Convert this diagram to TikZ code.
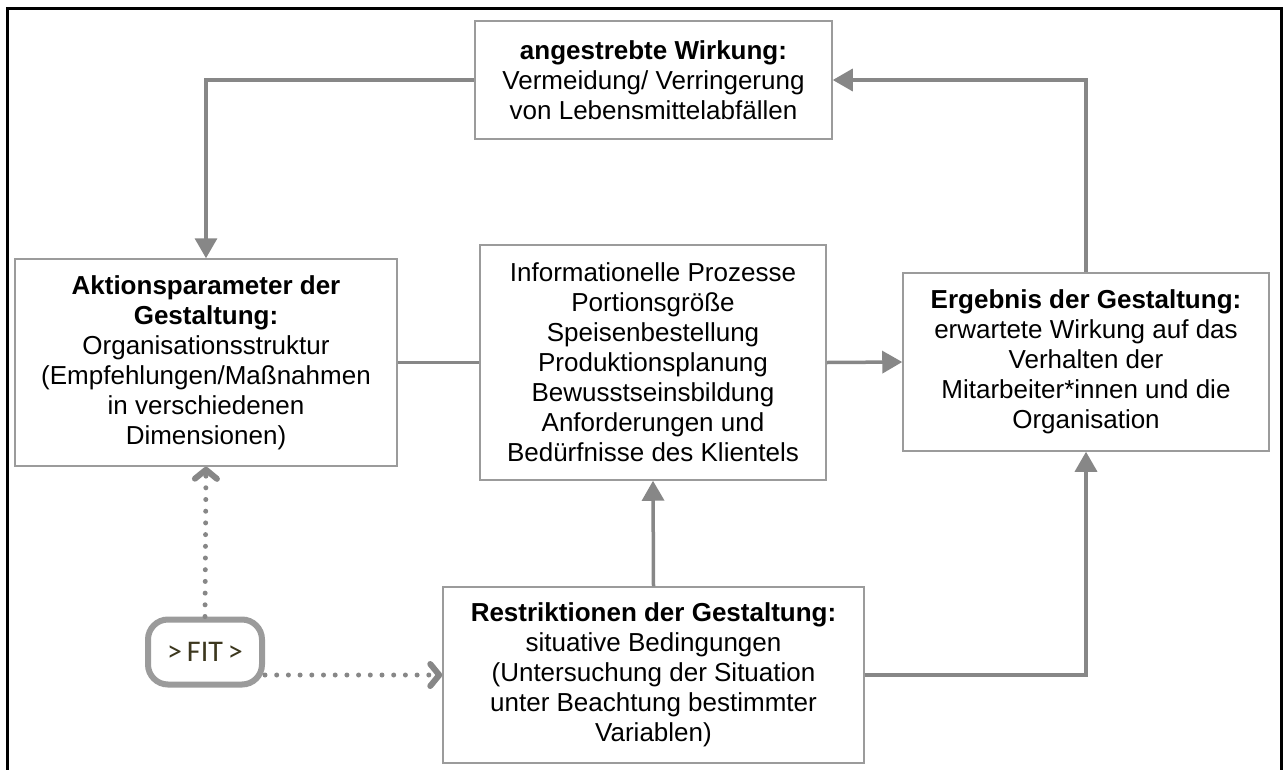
\documentclass[tikz,border=0pt]{standalone}
\usepackage{fontspec}
\setmainfont{Liberation Sans}
\newfontfamily\fitfont{Carlito}
\usetikzlibrary{arrows.meta}
\definecolor{pfeilgrau}{RGB}{135,135,135}
\definecolor{rahmengrau}{RGB}{155,155,155}
\definecolor{fitgrau}{RGB}{155,155,155}
\definecolor{fittext}{RGB}{60,55,30}

\begin{document}
\begin{tikzpicture}[x=1pt,y=-1pt,
    kasten/.style={draw=rahmengrau, line width=1.5pt, fill=white, align=center,
      inner sep=0pt, font=\fontsize{26}{30}\selectfont},
    fitkasten/.style={draw=fitgrau, line width=6pt, rounded corners=20pt, fill=white,
      minimum width=114pt, minimum height=65pt, inner sep=0pt,
      font=\fitfont\fontsize{30}{32}\selectfont, text=fittext},
    pfeil/.style={draw=pfeilgrau, line width=3.5pt, -{Triangle[length=20pt,width=22pt]}},
    linie/.style={draw=pfeilgrau, line width=3.5pt},
    punktpfeil/.style={draw=pfeilgrau, line width=5pt, line cap=round,
      dash pattern=on 0pt off 11.7pt,
      -{Straight Barb[round,length=9pt,width=22pt,line width=6pt]}}]
    % --- 1. Seitenformat und Rahmen ---
    \useasboundingbox (0,0) rectangle (1288,769);
    \draw[line width=3pt] (7,800) -- (7,8) -- (1281,8) -- (1281,800);

    % --- 2. Kasten der Gestaltung (Mittelpunkte) ---
    \node[kasten, minimum width=357pt, minimum height=118pt] (ziel) at (653.5,80)
      {\textbf{angestrebte Wirkung:}\\ Vermeidung/ Verringerung\\ von Lebensmittelabfällen};
    \node[kasten, minimum width=382pt, minimum height=207pt] (aktion) at (206,362.5)
      {\textbf{Aktionsparameter der}\\ \textbf{Gestaltung:}\\ Organisationsstruktur\\
       (Empfehlungen/Maßnahmen\\ in verschiedenen\\ Dimensionen)};
    \node[kasten, minimum width=346pt, minimum height=235pt] (prozess) at (653,362.5)
      {Informationelle Prozesse\\ Portionsgröße\\ Speisenbestellung\\ Produktionsplanung\\
       Bewusstseinsbildung\\ Anforderungen und\\ Bedürfnisse des Klientels};
    \node[kasten, minimum width=366pt, minimum height=178pt] (ergebnis) at (1086,362)
      {\textbf{Ergebnis der Gestaltung:}\\ erwartete Wirkung auf das\\ Verhalten der\\
       Mitarbeiter*innen und die\\ Organisation};
    \node[kasten, minimum width=421pt, minimum height=176pt] (restr) at (653.5,675)
      {\textbf{Restriktionen der Gestaltung:}\\ situative Bedingungen\\
       (Untersuchung der Situation\\ unter Beachtung bestimmter\\ Variablen)};
    \node[fitkasten] (fit) at (205,652) {>\,FIT\,>};

    % --- 3. Verbindungen ---
    \draw[pfeil] (ziel.west) -| (aktion.north);
    \draw[linie] (aktion.east) -- (prozess.west);
    \draw[pfeil] (prozess.east) -- (ergebnis.west);
    \draw[pfeil] (ergebnis.north) |- (ziel.east);
    \draw[pfeil] (restr.north) -- (prozess.south);
    \draw[pfeil] (restr.east) -| (ergebnis.south);

    % --- 4. FIT: gepunktete Pfeile ---
    \draw[punktpfeil] (fit.north) -- (aktion.south);
    \draw[punktpfeil] (fit.east |- restr.west) -- (restr.west);
\end{tikzpicture}
\end{document}
